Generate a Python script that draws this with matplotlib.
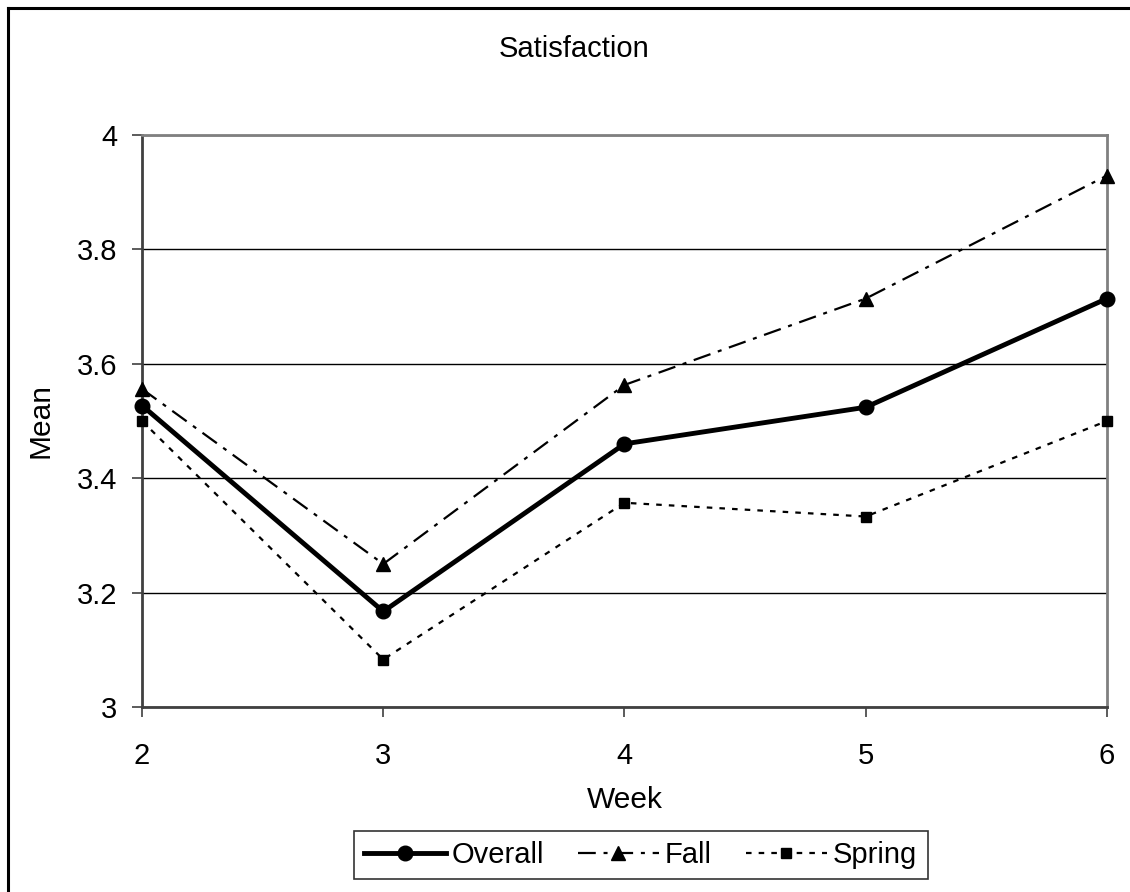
import matplotlib
matplotlib.use('Agg')
import matplotlib.pyplot as plt
from matplotlib.lines import Line2D

plt.rcParams.update({
    'font.family': ['Liberation Sans', 'DejaVu Sans'],
    'font.size': 21,
})

# --- Data: mean satisfaction by week ---
weeks = [2, 3, 4, 5, 6]
overall = [3.527, 3.167, 3.460, 3.524, 3.714]
fall = [3.556, 3.250, 3.563, 3.714, 3.929]
spring = [3.500, 3.083, 3.357, 3.333, 3.500]

fig = plt.figure(figsize=(11.3, 8.92), dpi=100)
ax = fig.add_axes([0.1257, 0.2074, 0.8539, 0.6413])

ax.plot(weeks, overall, color='black', lw=3.5, marker='o', markersize=10.5,
        label='Overall', zorder=4, clip_on=False)
ax.plot(weeks, fall, color='black', lw=1.6, dashes=(8, 3.5, 1.8, 3.5),
        marker='^', markersize=10.5, label='Fall', zorder=3, clip_on=False)
ax.plot(weeks, spring, color='black', lw=1.6, dashes=(2.5, 3.2), marker='s',
        markersize=7, label='Spring', zorder=3, clip_on=False)

ax.set_xlim(2, 6)
ax.set_ylim(3, 4)
ax.set_xticks(weeks)
ax.set_yticks([3, 3.2, 3.4, 3.6, 3.8, 4])
ax.set_yticklabels(['3', '3.2', '3.4', '3.6', '3.8', '4'])
ax.yaxis.grid(True, color='black', lw=1.0)
ax.set_axisbelow(True)
ax.tick_params(axis='both', direction='out', length=7, width=1.2,
               color='#404040', labelsize=21)
ax.tick_params(axis='x', pad=18)
ax.tick_params(axis='y', pad=11)

for side in ['left', 'bottom']:
    ax.spines[side].set_color('#404040')
    ax.spines[side].set_linewidth(2)
for side in ['top', 'right']:
    ax.spines[side].set_color('#808080')
    ax.spines[side].set_linewidth(2)

ax.set_xlabel('Week', fontsize=21.5)
ax.set_ylabel('Mean', fontsize=21.5)
ax.xaxis.set_label_coords(0.5, -0.1626)
ax.yaxis.set_label_coords(-0.105, 0.5)
ax.xaxis.label.set_va('center')
ax.yaxis.label.set_va('center')
fig.text(0.5084, 0.945, 'Satisfaction', ha='center', va='center', fontsize=21)

leg = fig.legend(loc='center', bbox_to_anchor=(0.567, 0.0415), ncol=3,
                 frameon=True, fancybox=False, handlelength=2.8,
                 columnspacing=1.15, handletextpad=0.2, borderpad=0.35,
                 borderaxespad=0, fontsize=21)
leg.get_frame().set_edgecolor('black')
leg.get_frame().set_linewidth(1.2)

# outer chart border (left and top edges)
fig.add_artist(Line2D([0.0075, 0.0075], [0, 0.991], color='black', lw=2.2,
                      transform=fig.transFigure))
fig.add_artist(Line2D([0.0075, 1], [0.991, 0.991], color='black', lw=2.2,
                      transform=fig.transFigure))

fig.savefig('out.png', dpi=100)
